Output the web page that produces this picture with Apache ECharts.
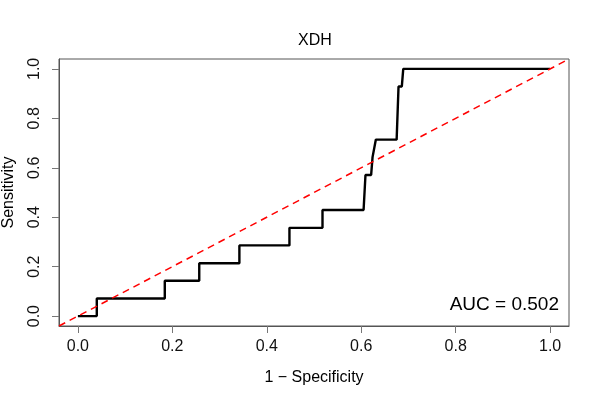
<!DOCTYPE html>
<html>
<head>
<meta charset="utf-8">
<script src="https://cdn.jsdelivr.net/npm/echarts@6/dist/echarts.min.js"></script>
<style>
  html, body { margin: 0; padding: 0; background: #fff; }
  #chart { width: 600px; height: 400px; }
</style>
</head>
<body>
<div id="chart"></div>
<script>
// ROC 曲线的数据（从图上读出来的）
const fpr = [0, 0.04, 0.04, 0.184, 0.184, 0.257, 0.257, 0.342, 0.342, 0.448, 0.448, 0.518, 0.518,
  0.605, 0.609, 0.621, 0.624, 0.627, 0.631, 0.675, 0.679, 0.686, 0.689, 1.0]
const tpr = [0, 0, 0.071, 0.071, 0.143, 0.143, 0.214, 0.214, 0.286, 0.286, 0.357, 0.357, 0.429,
  0.429, 0.571, 0.571, 0.643, 0.643, 0.714, 0.714, 0.929, 0.929, 1.0, 1.0]
const diagX = [-0.04, 1.04]
const tickValues = [0, 0.2, 0.4, 0.6, 0.8, 1.0]
const titleText = 'XDH'
const aucText = 'AUC = 0.502'

const font = 'Liberation Sans, Arial, sans-serif'

const chart = echarts.init(document.getElementById('chart'))

const curve = fpr.map((x, i) => [x, tpr[i]])
const diag = diagX.map(v => [v, v])

function axisCommon(name) {
  return {
    type: 'value',
    min: -0.04,
    max: 1.04,
    name: name,
    nameLocation: 'middle',
    nameTextStyle: { fontFamily: font, fontSize: 16, color: '#000' },
    axisLine: { show: true, onZero: false, lineStyle: { color: '#555', width: 1 } },
    axisTick: { show: true, length: 7, customValues: tickValues, lineStyle: { color: '#777' } },
    axisLabel: {
      customValues: tickValues,
      fontFamily: font,
      fontSize: 16,
      color: '#111',
      formatter: v => v.toFixed(1)
    },
    splitLine: { show: false }
  }
}

const xAxis = axisCommon('1 − Specificity')
xAxis.nameGap = 44
xAxis.axisLabel.margin = 13

const yAxis = axisCommon('Sensitivity')
yAxis.nameGap = 42
yAxis.axisLabel.rotate = 90
yAxis.axisLabel.margin = 16

chart.setOption({
  animation: false,
  title: {
    text: titleText,
    left: 310,
    top: 28,
    textAlign: 'center',
    textStyle: { fontFamily: font, fontSize: 16, fontWeight: 'normal', color: '#000' }
  },
  grid: {
    left: 59, top: 59, width: 510, height: 267,
    outerBoundsMode: 'none',
    containLabel: false,
    show: true, borderColor: '#555', borderWidth: 1
  },
  xAxis: xAxis,
  yAxis: yAxis,
  series: [
    {
      type: 'line',
      data: curve,
      symbol: 'none',
      lineStyle: { color: '#000', width: 2.4 }
    },
    {
      type: 'line',
      data: diag,
      symbol: 'none',
      lineStyle: { color: '#ff0000', width: 1.5, type: [7, 5] }
    }
  ],
  graphic: [{
    type: 'text',
    x: 559,
    y: 305,
    style: {
      text: aucText,
      fontFamily: font,
      fontSize: 19,
      fill: '#000',
      align: 'right',
      verticalAlign: 'middle'
    }
  }]
})
</script>
</body>
</html>
